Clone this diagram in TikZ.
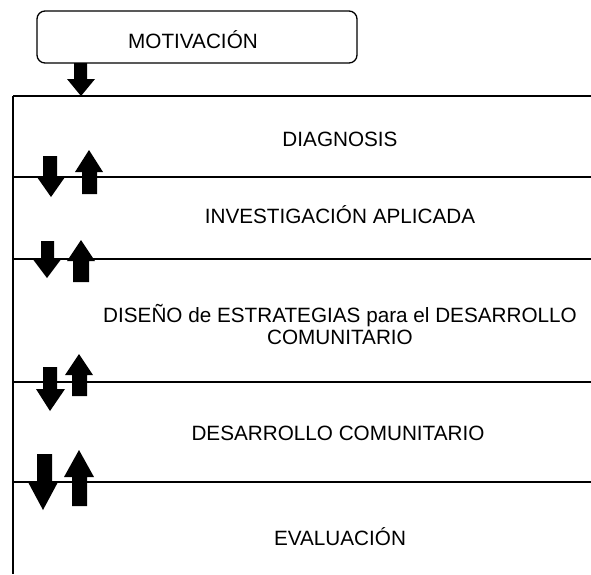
\documentclass[tikz,border=0pt]{standalone}
\usepackage{fontspec}
\setmainfont{Liberation Sans}
\begin{document}
\begin{tikzpicture}[x=1pt,y=-1pt,
  lbl/.style={inner sep=0pt, font=\fontsize{20.7}{22}\selectfont},
  rule/.style={line width=1.1pt},
  blk/.style={fill=black},
  boxstyle/.style={draw, line width=1.3pt, rounded corners=8pt, minimum width=320pt, minimum height=52pt, inner sep=0pt}]
\useasboundingbox (0,0) rectangle (591,574);
% top box
\node[boxstyle] (motivbox) at (197,37) {};
\node[lbl, anchor=base] (motiv) at (193,48) {MOTIVACIÓN};
% frame lines
\coordinate (vtop) at (13,96);
\coordinate (vbot) at (13,574);
\draw[rule] (vtop) -- (vbot);
\foreach \yy/\nm in {96/l0,177/l1,259/l2,382/l3,482/l4}{
  \coordinate (\nm a) at (13,\yy);
  \coordinate (\nm b) at (591,\yy);
  \draw[rule] (\nm a) -- (\nm b);
}
% labels
\node[lbl, anchor=base] (diag) at (340,146) {DIAGNOSIS};
\node[lbl, anchor=base] (inv) at (340,223) {INVESTIGACIÓN APLICADA};
\node[lbl, anchor=base, align=center] (dis) at (340,344) {DISEÑO de ESTRATEGIAS para el DESARROLLO\\COMUNITARIO};
\node[lbl, anchor=base] (des) at (338,440) {DESARROLLO COMUNITARIO};
\node[lbl, anchor=base] (eva) at (340,545) {EVALUACIÓN};
% block arrows: down
\fill[blk] (74,63) -- (87,63) -- (87,79) -- (95,79) -- (81,96) -- (67,79) -- (74,79) -- cycle;
\fill[blk] (43,156) -- (57,156) -- (57,177) -- (65,177) -- (51,197) -- (37,177) -- (43,177) -- cycle;
\fill[blk] (41,241) -- (54,241) -- (54,258) -- (62,258) -- (47,278) -- (32,258) -- (41,258) -- cycle;
\fill[blk] (43,367) -- (57,367) -- (57,389) -- (65,389) -- (50,411) -- (36,389) -- (43,389) -- cycle;
\fill[blk] (37,454) -- (52,454) -- (52,482) -- (58,482) -- (43,510) -- (28,482) -- (37,482) -- cycle;
% block arrows: up
\fill[blk] (82,194) -- (97,194) -- (97,172) -- (103,172) -- (89,150) -- (75,172) -- (82,172) -- cycle;
\fill[blk] (73,282) -- (89,282) -- (89,261) -- (95,261) -- (81,240) -- (67,261) -- (73,261) -- cycle;
\fill[blk] (72,396) -- (87,396) -- (87,375) -- (93,375) -- (79,354) -- (65,375) -- (72,375) -- cycle;
\fill[blk] (72,506) -- (87,506) -- (87,477) -- (94,477) -- (79,450) -- (64,477) -- (72,477) -- cycle;
\end{tikzpicture}
\end{document}
